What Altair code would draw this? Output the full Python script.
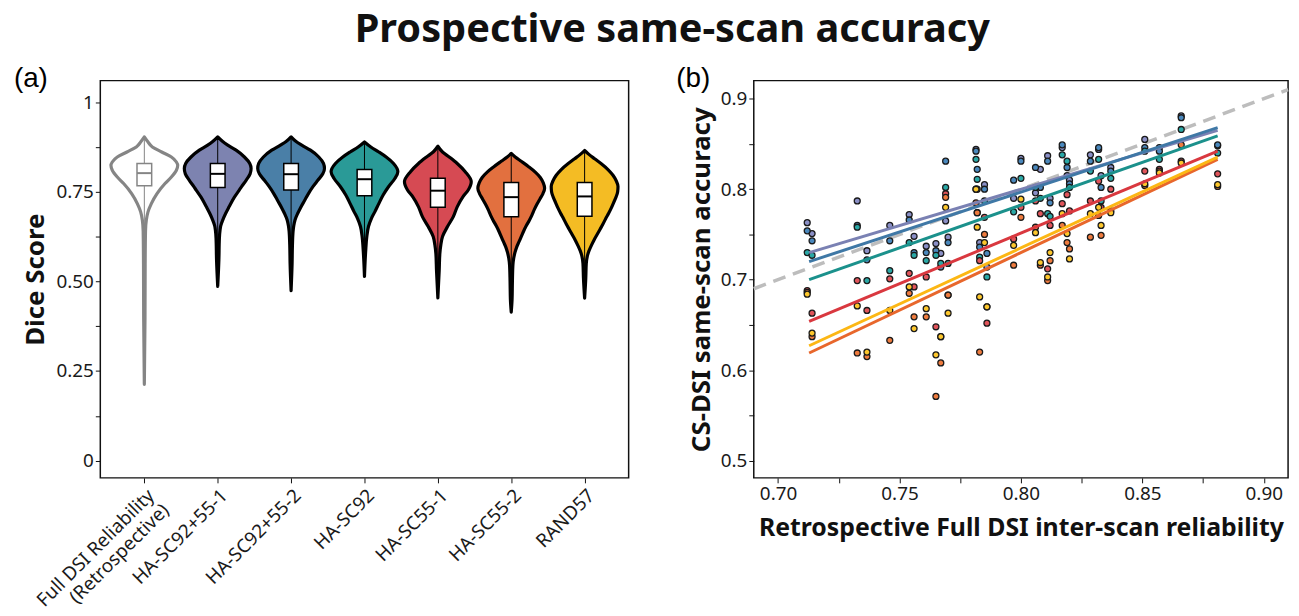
import altair as alt
import pandas as pd

TITLE = "Prospective same-scan accuracy"
CATEGORIES = ["Full DSI Reliability|(Retrospective)", "HA-SC92+55-1", "HA-SC92+55-2",
              "HA-SC92", "HA-SC55-1", "HA-SC55-2", "RAND57"]
VIOLIN_FILL = ["#ffffff", "#7d83b0", "#4a7fa7", "#2a9a97", "#d64a53", "#e2703f", "#f4bc24"]
VIOLIN_EDGE = ["#858585", "#000000", "#000000", "#000000", "#000000", "#000000", "#000000"]

# violin profiles: score levels and relative density (half-width)
V1_Y = [0.903, 0.890, 0.875, 0.861, 0.847, 0.833, 0.824, 0.810, 0.791, 0.773, 0.745, 0.717, 0.694, 0.671, 0.64, 0.55, 0.40, 0.213]
V1_D = [0.0, 0.10, 0.24, 0.52, 0.81, 0.96, 1.0, 0.96, 0.81, 0.62, 0.38, 0.21, 0.11, 0.06, 0.035, 0.025, 0.02, 0.0]
V2_Y = [0.903, 0.890, 0.880, 0.866, 0.847, 0.829, 0.815, 0.800, 0.782, 0.765, 0.754, 0.735, 0.708, 0.690, 0.671, 0.655, 0.643, 0.62, 0.56, 0.486]
V2_D = [0.0, 0.15, 0.30, 0.55, 0.80, 0.96, 1.0, 0.97, 0.85, 0.72, 0.64, 0.50, 0.34, 0.24, 0.15, 0.09, 0.07, 0.05, 0.035, 0.0]
V3_Y = [0.903, 0.890, 0.880, 0.866, 0.847, 0.829, 0.815, 0.800, 0.782, 0.765, 0.745, 0.725, 0.705, 0.690, 0.672, 0.655, 0.640, 0.60, 0.55, 0.474]
V3_D = [0.0, 0.15, 0.32, 0.58, 0.83, 0.97, 1.0, 0.95, 0.80, 0.66, 0.52, 0.40, 0.28, 0.20, 0.12, 0.08, 0.06, 0.04, 0.03, 0.0]
V4_Y = [0.889, 0.875, 0.861, 0.847, 0.829, 0.806, 0.787, 0.764, 0.741, 0.717, 0.694, 0.676, 0.653, 0.625, 0.59, 0.514]
V4_D = [0.0, 0.19, 0.43, 0.65, 0.87, 1.0, 0.91, 0.72, 0.56, 0.43, 0.31, 0.21, 0.12, 0.07, 0.04, 0.0]
V5_Y = [0.877, 0.861, 0.847, 0.829, 0.806, 0.778, 0.755, 0.736, 0.708, 0.680, 0.653, 0.625, 0.602, 0.578, 0.53, 0.454]
V5_D = [0.0, 0.14, 0.34, 0.58, 0.82, 1.0, 0.91, 0.75, 0.58, 0.46, 0.29, 0.14, 0.09, 0.06, 0.04, 0.0]
V6_Y = [0.857, 0.847, 0.835, 0.820, 0.805, 0.790, 0.775, 0.760, 0.745, 0.730, 0.715, 0.700, 0.685, 0.670, 0.655, 0.640, 0.625, 0.610, 0.595, 0.580, 0.565, 0.545, 0.50, 0.45, 0.414]
V6_D = [0.0, 0.12, 0.30, 0.52, 0.72, 0.87, 0.96, 1.0, 0.95, 0.86, 0.77, 0.69, 0.62, 0.54, 0.45, 0.37, 0.30, 0.23, 0.16, 0.11, 0.075, 0.05, 0.035, 0.025, 0.0]
V7_Y = [0.865, 0.855, 0.842, 0.828, 0.812, 0.796, 0.780, 0.765, 0.750, 0.735, 0.720, 0.705, 0.690, 0.675, 0.660, 0.645, 0.630, 0.615, 0.600, 0.585, 0.570, 0.550, 0.51, 0.453]
V7_D = [0.0, 0.12, 0.30, 0.50, 0.70, 0.85, 0.95, 1.0, 0.99, 0.94, 0.87, 0.80, 0.72, 0.63, 0.55, 0.46, 0.37, 0.28, 0.20, 0.13, 0.08, 0.05, 0.035, 0.0]
VIOLIN_Y = [V1_Y, V2_Y, V3_Y, V4_Y, V5_Y, V6_Y, V7_Y]
VIOLIN_D = [V1_D, V2_D, V3_D, V4_D, V5_D, V6_D, V7_D]

Q1 = [0.767, 0.762, 0.755, 0.739, 0.707, 0.680, 0.682]
MEDIAN = [0.802, 0.800, 0.799, 0.785, 0.753, 0.735, 0.737]
Q3 = [0.829, 0.829, 0.829, 0.812, 0.788, 0.776, 0.776]

# panel (b)
SERIES = ["HA-SC92+55-1", "HA-SC92+55-2", "HA-SC92", "HA-SC55-1", "HA-SC55-2", "RAND57"]
LINE_COLORS = ["#7a81b3", "#3f78a6", "#1b918c", "#d9383f", "#e8672c", "#fcb714"]
POINT_COLORS = ["#8a8fc6", "#4a88bd", "#2aa8a6", "#e0545a", "#ee7b3e", "#fdc72c"]
SUBJECT_X = [0.712, 0.714, 0.7326, 0.7366, 0.746, 0.754, 0.756, 0.761, 0.765, 0.767, 0.769, 0.770,
             0.7815, 0.782, 0.783, 0.785, 0.786, 0.797, 0.800, 0.806, 0.808, 0.811, 0.812,
             0.817, 0.819, 0.820, 0.8286, 0.832, 0.833, 0.837, 0.851, 0.857, 0.866, 0.881]
Y_SC92_55_1 = [0.763, 0.751, 0.787, 0.732, 0.760, 0.772, 0.748, 0.737, 0.740, 0.729, 0.765, 0.747,
               0.844, 0.800, 0.741, 0.805, 0.714, 0.790, 0.834, 0.796, 0.822, 0.837, 0.790,
               0.846, 0.815, 0.810, 0.838, 0.844, 0.815, 0.824, 0.855, 0.846, 0.881, 0.848]
Y_SC92_55_2 = [0.754, 0.743, 0.760, 0.722, 0.743, 0.766, 0.730, 0.730, 0.732, 0.714, 0.831, 0.741,
               0.842, 0.822, 0.736, 0.800, 0.729, 0.810, 0.831, 0.824, 0.802, 0.831, 0.785,
               0.849, 0.824, 0.806, 0.831, 0.846, 0.802, 0.820, 0.846, 0.842, 0.879, 0.849]
Y_SC92 = [0.730, 0.727, 0.758, 0.699, 0.710, 0.741, 0.727, 0.721, 0.727, 0.718, 0.802, 0.718,
          0.833, 0.811, 0.725, 0.787, 0.703, 0.775, 0.812, 0.802, 0.790, 0.773, 0.770,
          0.838, 0.831, 0.802, 0.820, 0.833, 0.787, 0.812, 0.842, 0.833, 0.866, 0.840]
Y_SC55_1 = [0.688, 0.663, 0.699, 0.666, 0.701, 0.707, 0.692, 0.703, 0.648, 0.637, 0.795, 0.683,
            0.800, 0.774, 0.721, 0.769, 0.652, 0.745, 0.780, 0.787, 0.773, 0.712, 0.760,
            0.784, 0.794, 0.776, 0.787, 0.809, 0.780, 0.800, 0.820, 0.822, 0.831, 0.817]
Y_SC55_2 = [0.686, 0.637, 0.619, 0.615, 0.633, 0.685, 0.659, 0.659, 0.571, 0.608, 0.791, 0.683,
            0.785, 0.774, 0.620, 0.750, 0.670, 0.716, 0.769, 0.758, 0.716, 0.699, 0.721,
            0.760, 0.741, 0.734, 0.747, 0.771, 0.749, 0.776, 0.804, 0.820, 0.849, 0.803]
Y_RAND57 = [0.684, 0.641, 0.671, 0.620, 0.666, 0.692, 0.646, 0.668, 0.617, 0.637, 0.780, 0.663,
            0.800, 0.758, 0.681, 0.741, 0.670, 0.738, 0.789, 0.752, 0.719, 0.703, 0.730,
            0.773, 0.751, 0.723, 0.773, 0.780, 0.760, 0.774, 0.806, 0.818, 0.829, 0.805]
SERIES_Y = [Y_SC92_55_1, Y_SC92_55_2, Y_SC92, Y_SC55_1, Y_SC55_2, Y_RAND57]

FIT_X = [0.7128, 0.881]
FIT_START = [0.730, 0.720, 0.700, 0.654, 0.619, 0.627]
FIT_END = [0.865, 0.868, 0.859, 0.842, 0.833, 0.8355]
IDENTITY = [0.69, 0.91]

A_YTICKS = [0, 0.125, 0.25, 0.375, 0.5, 0.625, 0.75, 0.875, 1]
B_XTICKS = [0.70, 0.725, 0.75, 0.775, 0.80, 0.825, 0.85, 0.875, 0.90]
B_YTICKS = [0.5, 0.55, 0.6, 0.65, 0.7, 0.75, 0.8, 0.85, 0.9]

FONT = "Noto Sans"
HALF = 0.455
BOXHALF = 0.1

# ---------- panel (a) ----------
vrows = []
for i in range(len(CATEGORIES)):
    for v, d in zip(VIOLIN_Y[i], VIOLIN_D[i]):
        vrows.append({"idx": i, "group": CATEGORIES[i], "score": v, "density": d})
violin_df = pd.DataFrame(vrows)
box_df = pd.DataFrame({"idx": list(range(len(CATEGORIES))), "group": CATEGORIES,
                       "q1": Q1, "med": MEDIAN, "q3": Q3,
                       "vmin": [min(v) for v in VIOLIN_Y], "vmax": [max(v) for v in VIOLIN_Y]})

xa_scale = alt.Scale(domain=[-0.6, 6.6], nice=False, zero=False)
ya_scale = alt.Scale(domain=[-0.048, 1.06], nice=False, zero=False)
fill_scale = alt.Scale(domain=CATEGORIES, range=VIOLIN_FILL)
edge_scale = alt.Scale(domain=CATEGORIES, range=VIOLIN_EDGE)

label_list = "[" + ",".join("'" + c + "'" for c in CATEGORIES) + "]"
xa_axis = alt.Axis(values=list(range(len(CATEGORIES))),
                   labelExpr="split(" + label_list + "[datum.value], '|')",
                   labelAngle=-45, labelFontSize=19, title=None, labelPadding=3,
                   labelOverlap=False, labelBound=False, labelFlush=False)
ya_axis = alt.Axis(values=A_YTICKS,
                   labelExpr="datum.value == 0 ? '0' : datum.value == 1 ? '1' : (datum.value * 8) % 2 == 1 ? '' : format(datum.value, '.2f')",
                   title="Dice Score", titlePadding=8, labelOverlap=False)

violins = alt.Chart(violin_df).transform_calculate(
    left=f"datum.idx - {HALF} * datum.density",
    right=f"datum.idx + {HALF} * datum.density",
).mark_area(orient="horizontal", strokeWidth=3.2, strokeJoin="round", interpolate="monotone").encode(
    y=alt.Y("score:Q", scale=ya_scale, axis=ya_axis),
    x=alt.X("left:Q", scale=xa_scale, axis=xa_axis),
    x2="right:Q",
    fill=alt.Fill("group:N", scale=fill_scale, legend=None),
    stroke=alt.Stroke("group:N", scale=edge_scale, legend=None),
    detail="group:N",
)

whiskers = alt.Chart(box_df).mark_rule(strokeWidth=1).encode(
    x=alt.X("idx:Q", scale=xa_scale),
    y=alt.Y("vmin:Q", scale=ya_scale),
    y2="vmax:Q",
    stroke=alt.Stroke("group:N", scale=edge_scale, legend=None),
)

boxes = alt.Chart(box_df).transform_calculate(
    bl=f"datum.idx - {BOXHALF}", br=f"datum.idx + {BOXHALF}"
).mark_rect(fill="white", strokeWidth=1.5).encode(
    x=alt.X("bl:Q", scale=xa_scale),
    x2="br:Q",
    y=alt.Y("q1:Q", scale=ya_scale),
    y2="q3:Q",
    stroke=alt.Stroke("group:N", scale=edge_scale, legend=None),
)

medians = alt.Chart(box_df).transform_calculate(
    bl=f"datum.idx - {BOXHALF}", br=f"datum.idx + {BOXHALF}"
).mark_rule(strokeWidth=2).encode(
    x=alt.X("bl:Q", scale=xa_scale),
    x2="br:Q",
    y=alt.Y("med:Q", scale=ya_scale),
    stroke=alt.Stroke("group:N", scale=edge_scale, legend=None),
)

tag_a = alt.Chart(pd.DataFrame({"t": ["(a)"]})).mark_text(
    font="Liberation Sans", fontSize=28, align="left", baseline="middle"
).encode(text="t:N", x=alt.value(-87), y=alt.value(-2))

panel_a = alt.layer(violins, whiskers, boxes, medians, tag_a).properties(width=532, height=400)

# ---------- panel (b) ----------
srows = []
for s, ys in zip(SERIES, SERIES_Y):
    for x, y in zip(SUBJECT_X, ys):
        srows.append({"series": s, "x": x, "y": y})
scatter_df = pd.DataFrame(srows)

frows = []
for s, y0, y1 in zip(SERIES, FIT_START, FIT_END):
    frows.append({"series": s, "x": FIT_X[0], "y": y0})
    frows.append({"series": s, "x": FIT_X[1], "y": y1})
fit_df = pd.DataFrame(frows)
ident_df = pd.DataFrame({"x": IDENTITY, "y": IDENTITY})

xb_scale = alt.Scale(domain=[0.69, 0.91], nice=False, zero=False)
yb_scale = alt.Scale(domain=[0.481, 0.92], nice=False, zero=False)

xb_axis = alt.Axis(values=B_XTICKS,
                   labelExpr="round(datum.value * 1000) % 50 == 0 ? format(datum.value, '.2f') : ''",
                   title="Retrospective Full DSI inter-scan reliability", titlePadding=12,
                   titleFontSize=25, labelOverlap=False)
yb_axis = alt.Axis(values=B_YTICKS,
                   labelExpr="round(datum.value * 100) % 10 == 0 ? format(datum.value, '.1f') : ''",
                   title="CS-DSI same-scan accuracy", titlePadding=6, labelOverlap=False)

ident = alt.Chart(ident_df).mark_line(strokeDash=[13, 8], color="#bdbdbd", strokeWidth=3.5).encode(
    x=alt.X("x:Q", scale=xb_scale, axis=xb_axis),
    y=alt.Y("y:Q", scale=yb_scale, axis=yb_axis),
)
points = alt.Chart(scatter_df).mark_circle(size=36, stroke="#1a1a1a", strokeWidth=1.3, opacity=1).encode(
    x=alt.X("x:Q", scale=xb_scale),
    y=alt.Y("y:Q", scale=yb_scale),
    fill=alt.Fill("series:N", scale=alt.Scale(domain=SERIES, range=POINT_COLORS), legend=None),
)
fits = alt.Chart(fit_df).mark_line(strokeWidth=3).encode(
    x=alt.X("x:Q", scale=xb_scale),
    y=alt.Y("y:Q", scale=yb_scale),
    stroke=alt.Stroke("series:N", scale=alt.Scale(domain=SERIES, range=LINE_COLORS), legend=None),
    detail="series:N",
)
tag_b = alt.Chart(pd.DataFrame({"t": ["(b)"]})).mark_text(
    font="Liberation Sans", fontSize=28, align="left", baseline="middle"
).encode(text="t:N", x=alt.value(-78), y=alt.value(-2))

panel_b = alt.layer(ident, points, fits, tag_b).properties(width=538, height=400)

chart = alt.hconcat(panel_a, panel_b, spacing=126, bounds="flush").resolve_scale(
    x="independent", y="independent", fill="independent", stroke="independent"
).properties(
    title=alt.Title(TITLE, fontSize=40, font=FONT, fontWeight="bold", anchor="middle",
                    color="#111111", offset=14, dx=18),
    padding={"left": 13, "top": 8, "right": 3, "bottom": 2},
).configure_view(
    stroke="#111111", strokeWidth=1.5
).configure_axis(
    domain=False, grid=False, ticks=True, tickColor="#111111", tickSize=5, tickWidth=1,
    labelFont=FONT, labelFontSize=19, labelColor="#1a1a1a",
    titleFont=FONT, titleFontSize=26, titleFontWeight="bold", titleColor="#111111",
)

chart.save("out.html", embed_options={"renderer": "svg", "actions": False})
